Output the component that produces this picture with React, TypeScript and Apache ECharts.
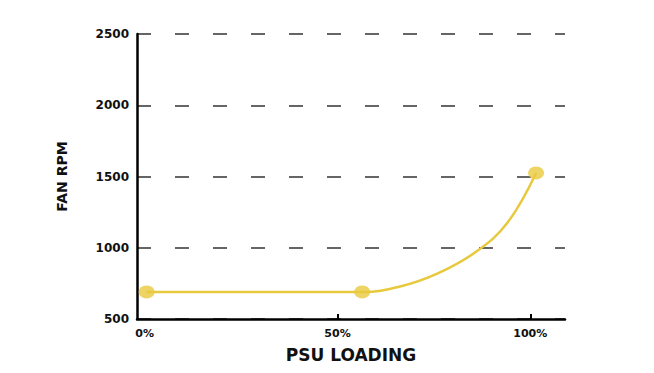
import React, { useEffect, useRef } from "react";
import * as echarts from "echarts";

const curveLoad = [0.5, 56.4, 66, 76, 86, 94, 101.5];
const curveRpm = [690, 690, 726, 820, 973, 1173, 1525];
const markerLoad = [0.5, 56.4, 101.5];
const markerRpm = [690, 690, 1525];
const xTickLabels = [0, 50, 100];
const xTicks = [50, 100];

const YELLOW = "#E8C93E";
const FONT = "DejaVu Sans";

export default function App() {
  const ref = useRef<HTMLDivElement>(null);
  useEffect(() => {
    document.body.style.margin = "0";
    if (!ref.current) return;
    const chart = echarts.init(ref.current, null, { renderer: "svg" });
    chart.setOption({
      animation: false,
      backgroundColor: "#ffffff",
      grid: { left: 137, right: 89, top: 34, bottom: 54 },
      xAxis: {
        type: "value",
        min: -2,
        max: 109,
        name: "PSU LOADING",
        nameLocation: "middle",
        nameGap: 27,
        nameTextStyle: { fontFamily: FONT, fontWeight: "bold", fontSize: 17, color: "#111" },
        axisLine: { show: true, onZero: false, lineStyle: { color: "#000", width: 2.5 } },
        axisTick: {
          show: true,
          inside: true,
          length: 5,
          customValues: xTicks,
          lineStyle: { color: "#000", width: 2 },
        },
        axisLabel: {
          customValues: xTickLabels,
          formatter: (v: number) => v + "%",
          margin: 9,
          fontFamily: FONT,
          fontWeight: "bold",
          fontSize: 11,
          color: "#111",
        },
        splitLine: { show: false },
      },
      yAxis: {
        type: "value",
        min: 500,
        max: 2500,
        interval: 500,
        name: "FAN RPM",
        nameLocation: "middle",
        nameRotate: 90,
        nameGap: 68,
        nameTextStyle: { fontFamily: FONT, fontWeight: "bold", fontSize: 14, color: "#111" },
        axisLine: { show: true, onZero: false, lineStyle: { color: "#000", width: 2.5 } },
        axisTick: { show: false },
        axisLabel: {
          margin: 8,
          formatter: (v: number) => String(v),
          fontFamily: FONT,
          fontWeight: "bold",
          fontSize: 12,
          color: "#111",
        },
        splitLine: {
          show: true,
          lineStyle: { color: "#333", width: 1.5, type: [14, 24] },
        },
      },
      series: [
        {
          type: "line",
          data: curveLoad.map((x, i) => [x, curveRpm[i]]),
          smooth: 0.4,
          showSymbol: false,
          lineStyle: { color: YELLOW, width: 2.5 },
          z: 2,
        },
        {
          type: "scatter",
          data: markerLoad.map((x, i) => [x, markerRpm[i]]),
          symbolSize: [16, 13],
          itemStyle: { color: YELLOW },
          z: 3,
        },
      ],
    });
    return () => chart.dispose();
  }, []);
  return <div ref={ref} style={{ width: 654, height: 373 }} />;
}
